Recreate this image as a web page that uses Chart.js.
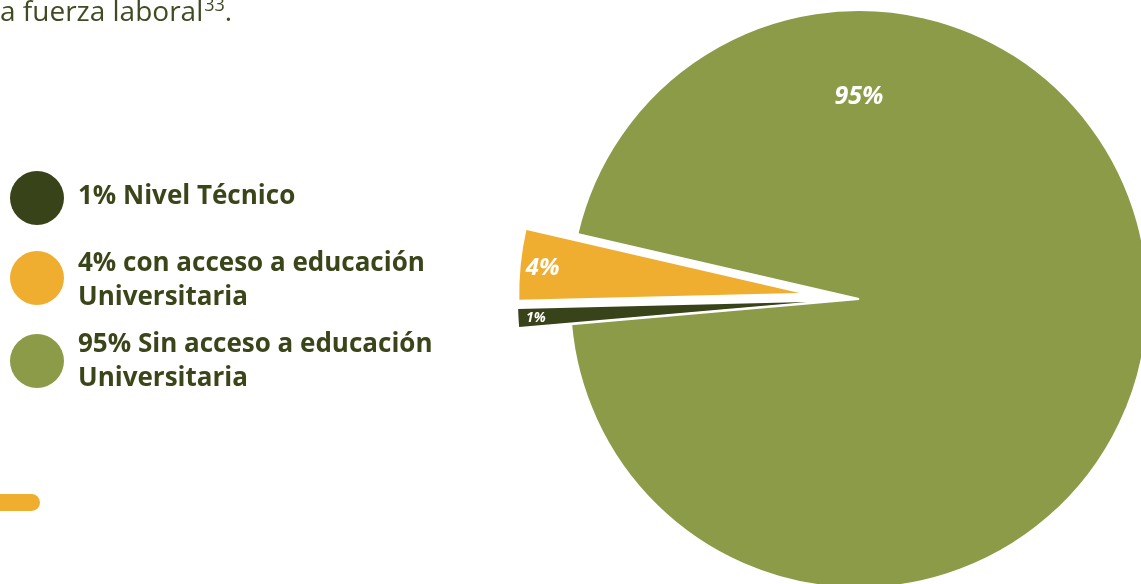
<!DOCTYPE html>
<html lang="es">
<head>
<meta charset="utf-8">
<title>Acceso a educación</title>
<script src="https://cdn.jsdelivr.net/npm/chart.js@4.4.1/dist/chart.umd.min.js"></script>
<style>
  html, body { margin: 0; padding: 0; background: #ffffff; overflow: hidden; }
  body { width: 1141px; height: 584px; position: relative; font-family: "Open Sans", sans-serif; }
  #wrap { position: absolute; left: 0; top: 0; width: 1141px; height: 584px; }
  .intro { position: absolute; left: 0; top: -7px; font-size: 28px; line-height: 34px; color: #3f4b22; white-space: nowrap; }
  .intro sup { font-size: 18px; vertical-align: 0; position: relative; top: -10px; margin-left: 1px; }
  .dot { position: absolute; left: 10px; width: 54px; height: 54px; border-radius: 50%; }
  .lbl { position: absolute; left: 78px; width: 410px; font-size: 26px; line-height: 34px; font-weight: 700; color: #3a4519; }
  .bar { position: absolute; left: -10px; top: 494px; width: 50px; height: 17px; border-radius: 9px; background: #efae2f; }
</style>
</head>
<body>
<div id="wrap"><canvas id="chart"></canvas></div>
<div class="intro">a fuerza laboral<sup>33</sup>.</div>
<div id="legend"></div>
<div class="bar"></div>
<script>
// ---- data ----
const categories = ["Nivel Técnico", "con acceso a educación Universitaria", "Sin acceso a educación Universitaria"];
const values = [1, 4, 95];
const valueLabels = ["1%", "4%", "95%"];

// ---- styles ----
const sliceColors = ["#384319", "#efae2f", "#8b9b47"];
const sliceBorders = [0, 2, 2];
const explodeOffsets = [52, 52, 0];
const legendTops = [177, 244, 325];
const dotCenters = [198, 278, 361];

// Legend (HTML, built from the arrays)
const legend = document.getElementById('legend');
categories.forEach((c, i) => {
  const dot = document.createElement('div');
  dot.className = 'dot';
  dot.style.top = (dotCenters[i] - 27) + 'px';
  dot.style.background = sliceColors[i];
  legend.appendChild(dot);
  const t = document.createElement('div');
  t.className = 'lbl';
  t.style.top = legendTops[i] + 'px';
  t.textContent = valueLabels[i] + ' ' + c;
  legend.appendChild(t);
});

// Pie controller that explodes slices by translating each arc along its mid-angle
class ExplodedPieController extends Chart.PieController {
  draw() {
    const ctx = this.chart.ctx;
    const meta = this._cachedMeta;
    const explode = this.getDataset().explode || [];
    const area = this.chart.chartArea;
    meta.data.forEach((arc, i) => {
      if (arc.hidden) return;
      const d = explode[i] || 0;
      const mid = (arc.startAngle + arc.endAngle) / 2;
      ctx.save();
      ctx.translate(Math.cos(mid) * d, Math.sin(mid) * d);
      arc.draw(ctx, area);
      ctx.restore();
    });
  }
}
ExplodedPieController.id = 'explodedPie';
ExplodedPieController.defaults = Chart.PieController.defaults;
ExplodedPieController.overrides = Chart.PieController.overrides;
Chart.register(ExplodedPieController);

const sliceLabels = {
  id: 'sliceLabels',
  afterDatasetsDraw(chart, args, opts) {
    const ctx = chart.ctx;
    const meta = chart.getDatasetMeta(0);
    const ds = chart.data.datasets[0];
    const explode = ds.explode || [];
    meta.data.forEach((arc, i) => {
      const mid = (arc.startAngle + arc.endAngle) / 2;
      const d = explode[i] || 0;
      const cx = arc.x + Math.cos(mid) * d;
      const cy = arc.y + Math.sin(mid) * d;
      const a = opts.angles[i] == null ? mid : opts.angles[i] * Math.PI / 180;
      const rr = arc.outerRadius * opts.radii[i];
      const x = cx + Math.cos(a) * rr;
      const y = cy + Math.sin(a) * rr;
      const size = opts.sizes[i];
      ctx.save();
      ctx.font = 'italic 700 ' + size + 'px "Open Sans"';
      ctx.fillStyle = opts.color;
      ctx.textAlign = 'center';
      ctx.textBaseline = 'alphabetic';
      ctx.fillText(opts.texts[i], x, y + size * 0.357);
      ctx.restore();
    });
  }
};

new Chart(document.getElementById('chart'), {
  type: 'explodedPie',
  data: {
    labels: categories,
    datasets: [{
      data: values,
      backgroundColor: sliceColors,
      borderColor: '#ffffff',
      borderWidth: sliceBorders,
      explode: explodeOffsets,
      radius: 289,
      clip: false
    }]
  },
  options: {
    responsive: true,
    maintainAspectRatio: false,
    animation: false,
    events: [],
    rotation: 265,
    layout: { padding: { left: 577, top: 14, right: 0, bottom: 0 } },
    plugins: {
      legend: { display: false },
      tooltip: { enabled: false },
      sliceLabels: {
        texts: valueLabels,
        angles: [null, null, -90],
        radii: [0.94, 0.92, 0.705],
        sizes: [14, 24, 25],
        color: '#ffffff'
      }
    }
  },
  plugins: [sliceLabels]
});
</script>
</body>
</html>
